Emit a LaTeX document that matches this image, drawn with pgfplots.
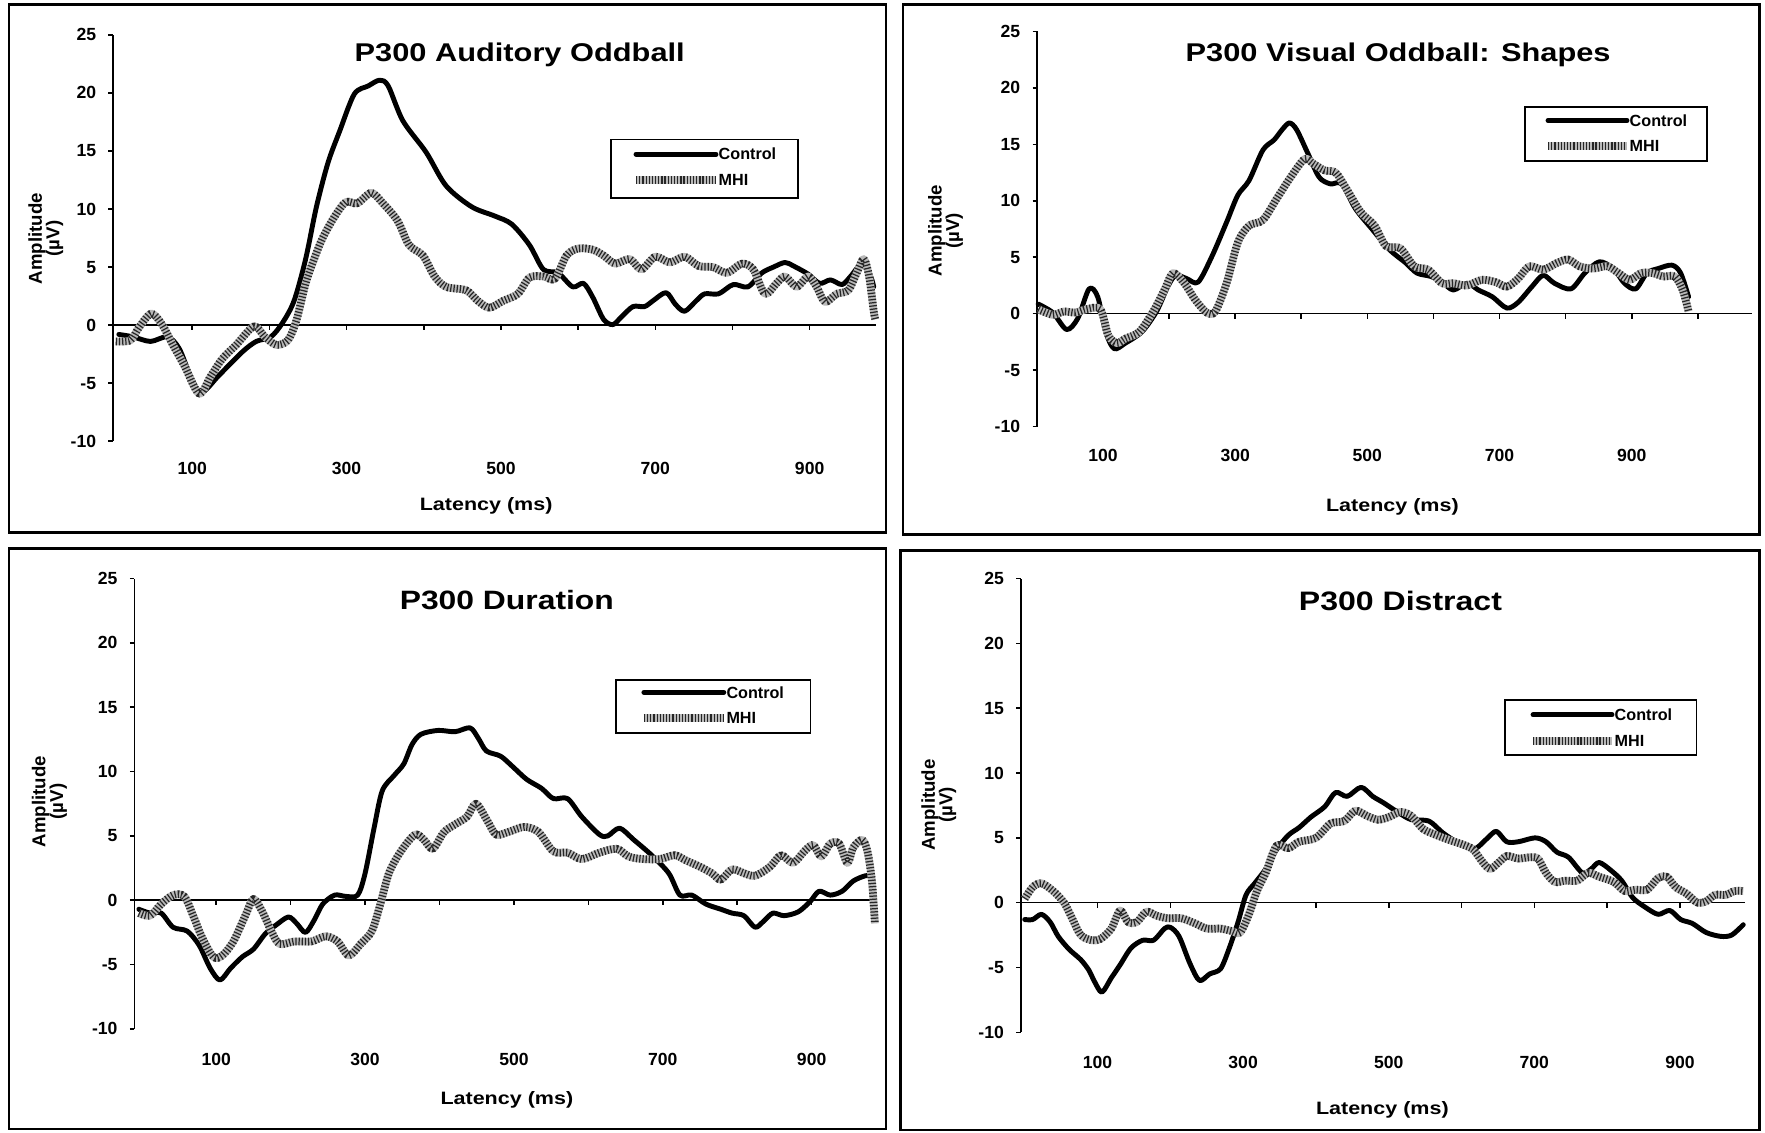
\documentclass[border=0pt]{standalone}
\usepackage{fontspec}
\setmainfont{Liberation Sans}
\newfontfamily\widefont[FakeStretch=1.2]{Liberation Sans}
\usepackage{pgfplots}
\pgfplotsset{compat=1.18}
\newcommand\tickf{\fontsize{5}{6}\selectfont\bfseries}
\newcommand\legf{\fontsize{4.6}{5.5}\selectfont\bfseries}
\newcommand\ylabf{\fontsize{5.3}{5}\selectfont\bfseries}
\newcommand\xlabf{\widefont\fontsize{5.1}{6}\selectfont\bfseries}
\newcommand\ttlf[1]{\widefont\fontsize{#1}{#1}\selectfont\bfseries}
\tikzset{
  ctrl/.style={black, line width=1.4pt, line join=round, line cap=round},
  mhi/.style={draw=gray!55, line width=2.2pt, line join=round,
    postaction={draw=black!85, line width=2.2pt, dash pattern=on 0.35pt off 0.55pt}}
}
\pgfplotsset{
  every axis title shift=0pt,
  erp/.style={scale only axis, anchor=south west, clip=false,
    axis x line*=bottom, axis y line*=left,
    x axis line style={draw=none}, y axis line style={line width=0.45pt},
    ymin=-10, ymax=25,
    ytick={-10,-5,0,5,10,15,20,25}, yticklabels={-10,-5,0,5,10,15,20,25},
    xtick={100,300,500,700,900}, xticklabels={100,300,500,700,900},
    xtick style={draw=none}, ytick style={line width=0.45pt, black},
    ytick align=outside, major tick length=0.45mm,
    tick label style={font=\tickf},
    xticklabel style={anchor=center},
    xlabel={Latency (ms)}, ylabel={Amplitude\\(µV)},
    xlabel style={anchor=center, font=\xlabf},
    ylabel style={anchor=center, align=center, font=\ylabf},
    title style={anchor=center},
  }
}
\begin{document}
\begin{tikzpicture}
\path[use as bounding box] (0,0) rectangle (176.5mm,113.2mm);
% frames
\draw[line width=0.75pt] (0.9mm,59.96mm) rectangle (88.59mm,112.75mm);
\draw[line width=0.75pt] (90.28mm,59.73mm) rectangle (175.95mm,112.75mm);
\draw[line width=0.75pt] (0.9mm,0.3mm) rectangle (88.59mm,58.38mm);
\draw[line width=0.75pt] (90.06mm,0.2mm) rectangle (175.95mm,58.15mm);

% ---------- Panel 1
\begin{axis}[erp, at={(11.3mm,69.07mm)}, width=76.3mm, height=40.64mm,
  xmin=-2.6, xmax=986, xticklabel style={yshift=-2.7mm},
  title={P300 Auditory Oddball},
  title style={at={(axis description cs:0.533,0.952)}, font=\ttlf{7.3}},
  xlabel style={at={(axis description cs:0.489,-0.160)}},
  ylabel style={at={(axis description cs:-0.088,0.499)}}]
\draw[line width=0.45pt] (axis cs:-2.6,0) -- (axis cs:986,0);
\pgfplotsinvokeforeach{100,200,300,400,500,600,700,800,900}{\draw[line width=0.45pt] (axis cs:#1,0) -- ([yshift=-0.5mm]axis cs:#1,0);}
\addplot[ctrl, smooth, tension=0.5] coordinates {(5,-0.8)(23,-1.0)(46,-1.4)(68,-1.0)(83,-2.0)(98,-4.4)(112,-5.8)(135,-4.3)(165,-2.3)(183,-1.4)(202,-1.0)(217,0.2)(232,2.1)(247,5.7)(261,10.2)(276,14.0)(291,16.7)(310,19.9)(328,20.6)(343,21.1)(354,20.6)(373,17.6)(403,14.9)(429,12.0)(462,10.2)(492,9.4)(514,8.7)(537,6.9)(555,4.8)(574,4.5)(593,3.3)(607,3.6)(619,2.4)(633,0.5)(645,0.05)(656,0.7)(671,1.6)(686,1.6)(697,2.1)(714,2.8)(726,1.8)(738,1.2)(753,2.1)(764,2.7)(782,2.7)(801,3.5)(820,3.3)(838,4.5)(853,5.0)(868,5.4)(879,5.1)(898,4.4)(913,3.6)(927,3.9)(942,3.5)(953,4.2)(968,5.3)(979,4.2)(983,3.3)};
\addplot[mhi, smooth, tension=0.5] coordinates {(1,-1.4)(20,-1.3)(31,-0.2)(47,1.0)(61,0.05)(75,-1.7)(90,-3.5)(109,-5.9)(124,-4.4)(139,-2.9)(157,-1.7)(180,-0.1)(194,-1.0)(209,-1.7)(224,-1.3)(235,0.4)(247,3.6)(258,5.7)(269,7.5)(284,9.3)(299,10.6)(314,10.5)(332,11.4)(347,10.5)(366,9.0)(381,6.9)(399,6.0)(414,4.2)(429,3.3)(455,3.0)(470,2.1)(485,1.5)(503,2.1)(522,2.7)(537,4.1)(555,4.2)(570,4.0)(585,6.0)(600,6.6)(619,6.5)(633,6.0)(648,5.3)(667,5.7)(682,4.8)(700,5.9)(719,5.4)(738,5.9)(756,5.1)(775,5.0)(793,4.5)(812,5.3)(827,4.8)(842,2.7)(857,3.6)(868,4.2)(883,3.3)(898,4.2)(909,3.3)(920,2.0)(935,2.7)(950,3.0)(961,4.5)(970,5.7)(977,4.2)(983,1.2)(985,0.5)};
\end{axis}

% ---------- Panel 2
\begin{axis}[erp, at={(103.7mm,70.54mm)}, width=71.5mm, height=39.51mm,
  xmin=0.2, xmax=1082, xticklabel style={yshift=-2.93mm},
  title={P300 Visual Oddball: Shapes},
  title style={at={(axis description cs:0.505,0.940)}, font=\ttlf{7.3}},
  xlabel style={at={(axis description cs:0.497,-0.202)}},
  ylabel style={at={(axis description cs:-0.128,0.496)}}]
\draw[line width=0.45pt] (axis cs:0.2,0) -- (axis cs:1082,0);
\pgfplotsinvokeforeach{100,200,300,400,500,600,700,800,900,1000}{\draw[line width=0.45pt] (axis cs:#1,0) -- ([yshift=-0.5mm]axis cs:#1,0);}
\addplot[ctrl, smooth, tension=0.5] coordinates {(2,0.85)(24,0.1)(45,-1.4)(62,-0.4)(79,2.2)(92,1.5)(104,-1.6)(117,-3.1)(134,-2.6)(159,-1.6)(181,0.2)(198,2.4)(210,3.4)(227,3.1)(244,2.8)(265,5.1)(287,8.1)(304,10.5)(321,11.8)(342,14.5)(359,15.4)(371,16.3)(382,16.9)(393,16.3)(410,14.2)(427,12.1)(444,11.5)(461,11.5)(482,9.3)(507,7.5)(533,5.7)(558,4.5)(575,3.6)(596,3.3)(613,2.8)(630,2.1)(651,2.7)(668,2.1)(689,1.5)(711,0.5)(728,1.0)(749,2.4)(766,3.4)(783,2.7)(808,2.2)(829,3.6)(851,4.6)(872,4.0)(889,2.7)(906,2.2)(923,3.6)(940,4.0)(961,4.3)(974,3.6)(986,1.5)};
\addplot[mhi, smooth, tension=0.5] coordinates {(2,0.4)(24,-0.1)(41,0.2)(58,0.1)(75,0.4)(96,0.4)(108,-1.9)(121,-2.6)(134,-2.2)(155,-1.6)(176,0.2)(193,2.1)(206,3.6)(223,2.7)(240,1.2)(257,0.1)(270,0.2)(287,2.7)(304,6.3)(321,7.8)(342,8.3)(363,10.2)(384,12.1)(405,13.7)(418,13.3)(435,12.7)(452,12.5)(469,11.0)(490,9.0)(511,7.8)(528,6.0)(550,5.8)(571,4.2)(592,3.9)(613,2.7)(630,2.7)(651,2.5)(673,3.0)(694,2.8)(711,2.4)(728,3.1)(745,4.2)(766,3.9)(787,4.5)(804,4.8)(821,4.2)(842,4.0)(863,4.2)(880,3.6)(897,3.0)(914,3.6)(931,3.6)(948,3.3)(965,3.3)(977,2.1)(986,0.2)};
\end{axis}

% ---------- Panel 3
\begin{axis}[erp, at={(13.44mm,10.31mm)}, width=73.9mm, height=45.03mm,
  xmin=-10, xmax=983, xticklabel style={yshift=-3.04mm},
  title={P300 Duration},
  title style={at={(axis description cs:0.504,0.952)}, font=\ttlf{7.55}},
  xlabel style={at={(axis description cs:0.504,-0.157)}},
  ylabel style={at={(axis description cs:-0.115,0.505)}}]
\draw[line width=0.45pt] (axis cs:-10,0) -- (axis cs:983,0);
\pgfplotsinvokeforeach{100,200,300,400,500,600,700,800,900}{\draw[line width=0.45pt] (axis cs:#1,0) -- ([yshift=-0.5mm]axis cs:#1,0);}
\addplot[ctrl, smooth, tension=0.5] coordinates {(-4,-0.7)(11,-1.0)(26,-1.0)(42,-2.1)(61,-2.4)(77,-3.5)(92,-5.3)(105,-6.2)(119,-5.3)(135,-4.4)(150,-3.8)(166,-2.6)(181,-1.9)(197,-1.3)(208,-1.8)(220,-2.5)(232,-1.5)(243,-0.3)(259,0.4)(274,0.3)(290,0.4)(300,2.1)(312,5.6)(323,8.5)(339,9.7)(352,10.6)(363,12.1)(375,12.9)(398,13.2)(421,13.1)(441,13.4)(452,12.6)(463,11.6)(482,11.2)(498,10.4)(517,9.4)(537,8.7)(553,7.9)(572,7.9)(591,6.5)(615,5.1)(626,5.0)(642,5.6)(661,4.7)(685,3.5)(708,2.1)(723,0.4)(739,0.4)(758,-0.3)(778,-0.7)(793,-1.0)(809,-1.2)(824,-2.1)(836,-1.6)(848,-1.0)(863,-1.2)(882,-0.9)(898,-0.1)(910,0.7)(925,0.4)(941,0.7)(956,1.5)(972,1.9)(982,1.9)};
\addplot[mhi, smooth, tension=0.5] coordinates {(-4,-1.0)(11,-1.2)(26,-0.3)(42,0.4)(57,0.3)(69,-1.2)(81,-2.9)(96,-4.4)(108,-4.3)(123,-3.2)(139,-1.2)(150,0.1)(162,-0.9)(174,-2.4)(185,-3.4)(205,-3.2)(228,-3.2)(247,-2.8)(263,-3.2)(278,-4.3)(294,-3.4)(309,-2.4)(320,-0.4)(332,2.1)(348,3.8)(367,5.1)(379,4.7)(391,4.0)(406,5.3)(421,5.9)(437,6.5)(449,7.5)(464,6.2)(476,5.1)(492,5.3)(514,5.7)(533,5.3)(553,3.8)(572,3.7)(591,3.2)(615,3.7)(638,4.0)(654,3.4)(673,3.2)(696,3.2)(716,3.5)(731,3.1)(750,2.6)(766,2.1)(778,1.6)(793,2.4)(809,2.1)(824,1.9)(844,2.6)(859,3.5)(875,2.9)(890,3.8)(902,4.3)(913,3.4)(925,4.4)(937,4.4)(948,2.9)(956,4.1)(968,4.7)(975,3.8)(981,1.5)(985,-1.8)};
\end{axis}

% ---------- Panel 4
\begin{axis}[erp, at={(102.07mm,9.97mm)}, width=72.47mm, height=45.37mm,
  xmin=-5.5, xmax=990, xticklabel style={yshift=-3.04mm},
  title={P300 Distract},
  title style={at={(axis description cs:0.524,0.950)}, font=\ttlf{7.6}},
  xlabel style={at={(axis description cs:0.499,-0.171)}},
  ylabel style={at={(axis description cs:-0.113,0.501)}}]
\draw[line width=0.45pt] (axis cs:-5.5,0) -- (axis cs:990,0);
\pgfplotsinvokeforeach{100,200,300,400,500,600,700,800,900}{\draw[line width=0.45pt] (axis cs:#1,0) -- ([yshift=-0.5mm]axis cs:#1,0);}
\addplot[ctrl, smooth, tension=0.5] coordinates {(0,-1.3)(11,-1.3)(23,-0.9)(35,-1.5)(46,-2.6)(61,-3.6)(77,-4.4)(88,-5.2)(96,-6.1)(106,-6.9)(119,-5.8)(131,-4.8)(146,-3.5)(162,-2.9)(177,-2.9)(192,-2.0)(200,-1.9)(212,-2.6)(227,-4.7)(240,-6.0)(254,-5.5)(269,-5.1)(281,-3.5)(293,-1.5)(304,0.6)(316,1.5)(331,2.6)(346,4.1)(362,5.2)(377,5.8)(393,6.6)(412,7.4)(427,8.5)(443,8.2)(462,8.9)(478,8.2)(493,7.7)(512,7.0)(531,6.4)(555,6.3)(574,5.4)(593,4.7)(609,4.4)(620,4.2)(636,5.0)(648,5.5)(662,4.7)(678,4.7)(701,5.0)(716,4.7)(731,3.9)(747,3.5)(766,2.3)(778,2.6)(789,3.1)(805,2.5)(820,1.7)(835,0.4)(851,-0.3)(870,-0.9)(886,-0.6)(901,-1.3)(917,-1.6)(936,-2.3)(956,-2.6)(971,-2.5)(987,-1.7)};
\addplot[mhi, smooth, tension=0.5] coordinates {(0,0.3)(11,1.2)(23,1.5)(39,0.9)(54,0)(65,-1.2)(77,-2.5)(92,-2.9)(104,-2.8)(119,-2.0)(131,-0.6)(142,-1.5)(154,-1.5)(167,-0.7)(181,-1.0)(196,-1.2)(215,-1.2)(234,-1.6)(250,-2.0)(269,-2.0)(285,-2.2)(296,-2.3)(308,-0.9)(319,0.9)(331,2.3)(346,4.4)(362,4.2)(377,4.7)(400,5.0)(420,6.1)(439,6.3)(454,7.1)(470,6.7)(485,6.4)(500,6.6)(516,7.0)(531,6.7)(547,5.7)(566,5.2)(585,4.8)(601,4.5)(616,4.1)(628,3.2)(639,2.6)(651,3.1)(662,3.6)(678,3.4)(693,3.5)(705,3.4)(716,2.3)(728,1.6)(743,1.7)(759,1.7)(774,2.3)(789,2.0)(809,1.6)(824,0.9)(839,1.0)(855,1.0)(870,1.9)(882,2.0)(894,1.2)(909,0.7)(924,0)(936,0.1)(948,0.6)(963,0.6)(975,0.9)(987,0.9)};
\end{axis}

% ---------- Legends
\draw[line width=0.5pt] (61.13mm,93.39mm) rectangle (79.81mm,99.24mm);
\draw[ctrl] (63.6mm,97.78mm) -- (71.6mm,97.78mm);
\node[anchor=west, inner sep=0.2mm, font=\legf] at (71.6mm,97.78mm) {Control};
\draw[mhi] (63.6mm,95.19mm) -- (71.6mm,95.19mm);
\node[anchor=west, inner sep=0.2mm, font=\legf] at (71.6mm,95.19mm) {MHI};

\draw[line width=0.5pt] (152.53mm,97.10mm) rectangle (170.66mm,102.51mm);
\draw[ctrl] (154.8mm,101.15mm) -- (162.7mm,101.15mm);
\node[anchor=west, inner sep=0.2mm, font=\legf] at (162.7mm,101.15mm) {Control};
\draw[mhi] (154.8mm,98.57mm) -- (162.7mm,98.57mm);
\node[anchor=west, inner sep=0.2mm, font=\legf] at (162.7mm,98.57mm) {MHI};

\draw[line width=0.5pt] (61.58mm,39.92mm) rectangle (81.05mm,45.21mm);
\draw[ctrl] (64.39mm,43.97mm) -- (72.38mm,43.97mm);
\node[anchor=west, inner sep=0.2mm, font=\legf] at (72.38mm,43.97mm) {Control};
\draw[mhi] (64.39mm,41.38mm) -- (72.38mm,41.38mm);
\node[anchor=west, inner sep=0.2mm, font=\legf] at (72.38mm,41.38mm) {MHI};

\draw[line width=0.5pt] (150.5mm,37.67mm) rectangle (169.64mm,43.18mm);
\draw[ctrl] (153.3mm,41.72mm) -- (161.2mm,41.72mm);
\node[anchor=west, inner sep=0.2mm, font=\legf] at (161.2mm,41.72mm) {Control};
\draw[mhi] (153.3mm,39.13mm) -- (161.2mm,39.13mm);
\node[anchor=west, inner sep=0.2mm, font=\legf] at (161.2mm,39.13mm) {MHI};
\end{tikzpicture}
\end{document}
